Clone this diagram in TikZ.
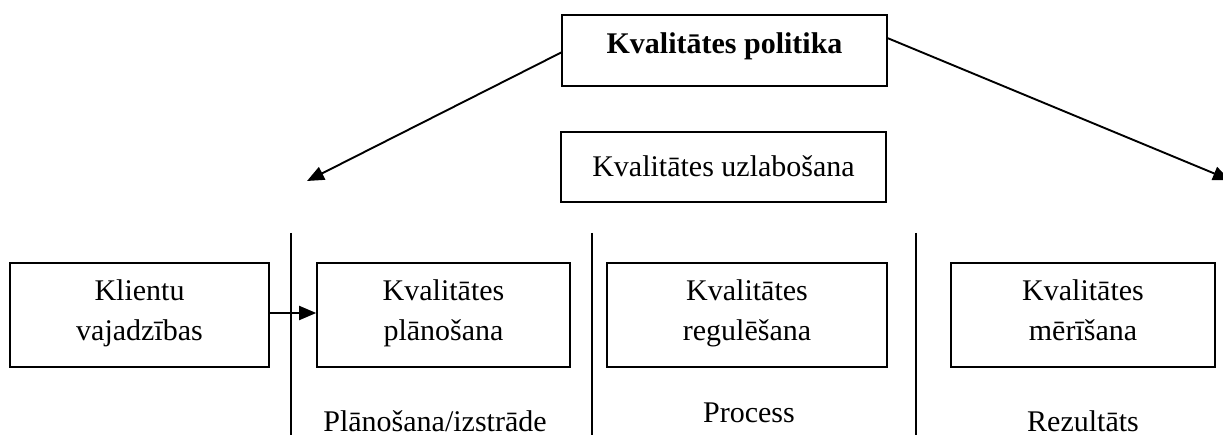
\documentclass[tikz,border=0pt]{standalone}
\usepackage{fontspec}
\setmainfont{Liberation Serif}
\usetikzlibrary{arrows.meta}
\begin{document}
\begin{tikzpicture}[x=1pt,y=-1pt,
  box/.style={draw, line width=1.6pt, inner sep=0pt},
  txt/.style={inner sep=0pt, anchor=base, align=center, font=\fontsize{30}{40}\selectfont},
  conn/.style={line width=1.9pt},
  arr/.style={conn, -{Triangle[length=17pt,width=14pt]}}]
\useasboundingbox (0,0) rectangle (1223,435);
% boxes
\node[box, minimum width=325pt, minimum height=71pt] (pol) at (724.5,50.5) {};
\node[box, minimum width=325pt, minimum height=70pt] (uzl) at (723.5,167) {};
\node[box, minimum width=259pt, minimum height=104pt] (kli) at (139.5,315) {};
\node[box, minimum width=253pt, minimum height=104pt] (pla) at (443.5,315) {};
\node[box, minimum width=280pt, minimum height=104pt] (reg) at (747,315) {};
\node[box, minimum width=264pt, minimum height=104pt] (mer) at (1083,315) {};
% box texts (base = last line)
\node[txt, font=\fontsize{30}{40}\selectfont\bfseries] (polT) at (724.5,54) {Kvalitātes politika};
\node[txt] (uzlT) at (723.5,177) {Kvalitātes uzlabošana};
\node[txt] (kliT) at (139.5,341) {Klientu\\vajadzības};
\node[txt] (plaT) at (443.5,341) {Kvalitātes\\plānošana};
\node[txt] (regT) at (747,341) {Kvalitātes\\regulēšana};
\node[txt] (merT) at (1083,341) {Kvalitātes\\mērīšana};
% column labels
\node[txt] (lp) at (435,431) {Plānošana/izstrāde};
\node[txt] (lr) at (749,422) {Process};
\node[txt] (lm) at (1083,431) {Rezultāts};
% connectors
\coordinate (la) at (307,181);
\coordinate (ra) at (1230,180);
\coordinate (v1t) at (291,233); \coordinate (v1b) at (291,436);
\coordinate (v2t) at (592,233); \coordinate (v2b) at (592,436);
\coordinate (v3t) at (916,233); \coordinate (v3b) at (916,436);
\draw[arr] ([yshift=-2pt]pol.west) -- (la);
\draw[arr] ([yshift=-24pt]pol.north east) -- (ra);
\draw[conn] (v1t) -- (v1b);
\draw[conn] (v2t) -- (v2b);
\draw[conn] (v3t) -- (v3b);
\draw[arr] ([yshift=2pt]kli.east) -- ([yshift=2pt]pla.west);
\end{tikzpicture}
\end{document}
